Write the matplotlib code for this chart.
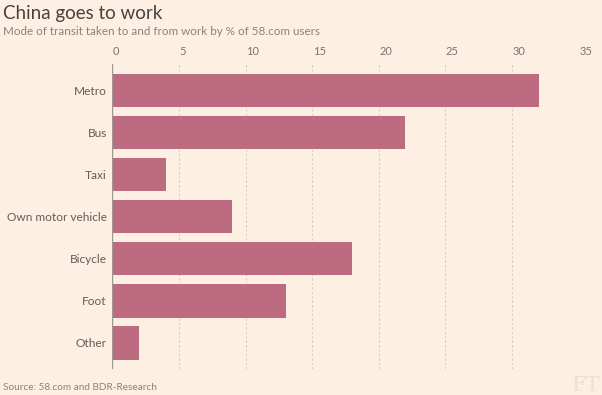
import matplotlib
matplotlib.use('Agg')
import matplotlib.pyplot as plt
import matplotlib.transforms as mtrans
import numpy as np

# Data
categories = ['Metro', 'Bus', 'Taxi', 'Own motor vehicle', 'Bicycle', 'Foot', 'Other']
shares = [32, 22, 4, 9, 18, 13, 2]
xticks = [0, 5, 10, 15, 20, 25, 30, 35]

bg = '#fdf0e2'
bar_color = '#bc6b80'
plt.rcParams['font.family'] = ['Lato', 'DejaVu Sans']

fig = plt.figure(figsize=(6.02, 3.95), dpi=100, facecolor=bg)
ax = fig.add_axes([0.1866, 0.0651, 0.7747, 0.773])
ax.set_facecolor(bg)

y = np.arange(len(categories))
ax.barh(y, shares, height=0.8, color=bar_color, zorder=3)

ax.set_xlim(0, 35)
ax.set_ylim(len(categories) - 0.37, -0.63)

# top axis, labels sit just right of each gridline
ax.xaxis.tick_top()
ax.set_xticks(xticks)
ax.set_xticklabels([str(t) for t in xticks], ha='left', fontsize=8, color='#7a7570')
ax.tick_params(axis='x', length=0, pad=5)
offset = mtrans.ScaledTranslation(0.5 / 100, 0, fig.dpi_scale_trans)
for lbl in ax.get_xticklabels():
    lbl.set_transform(lbl.get_transform() + offset)

ax.set_yticks(y)
ax.set_yticklabels(categories, fontsize=8.6, color='#625d57')
ax.tick_params(axis='y', length=0, pad=4)

for t in xticks[1:]:
    ax.axvline(t, color='#d8cdc2', lw=0.8, ls=(0, (2, 2)), zorder=1)
ax.axvline(0, color='#a09890', lw=1, zorder=4)

for s in ax.spines.values():
    s.set_visible(False)

fig.text(0.005, 0.965, 'China goes to work', fontsize=13.5,
         color='#48433e', va='center', ha='left')
fig.text(0.005, 0.92, 'Mode of transit taken to and from work by % of 58.com users',
         fontsize=8.4, color='#8a837c', va='center', ha='left')
fig.text(0.005, 0.02, 'Source: 58.com and BDR-Research', fontsize=7.2, color='#8a837c',
         va='center', ha='left')
fig.text(0.997, 0.025, 'FT', fontsize=15, color='#ebe0d5', family='DejaVu Serif',
         va='center', ha='right')

fig.savefig('out.png', dpi=100, facecolor=bg)
